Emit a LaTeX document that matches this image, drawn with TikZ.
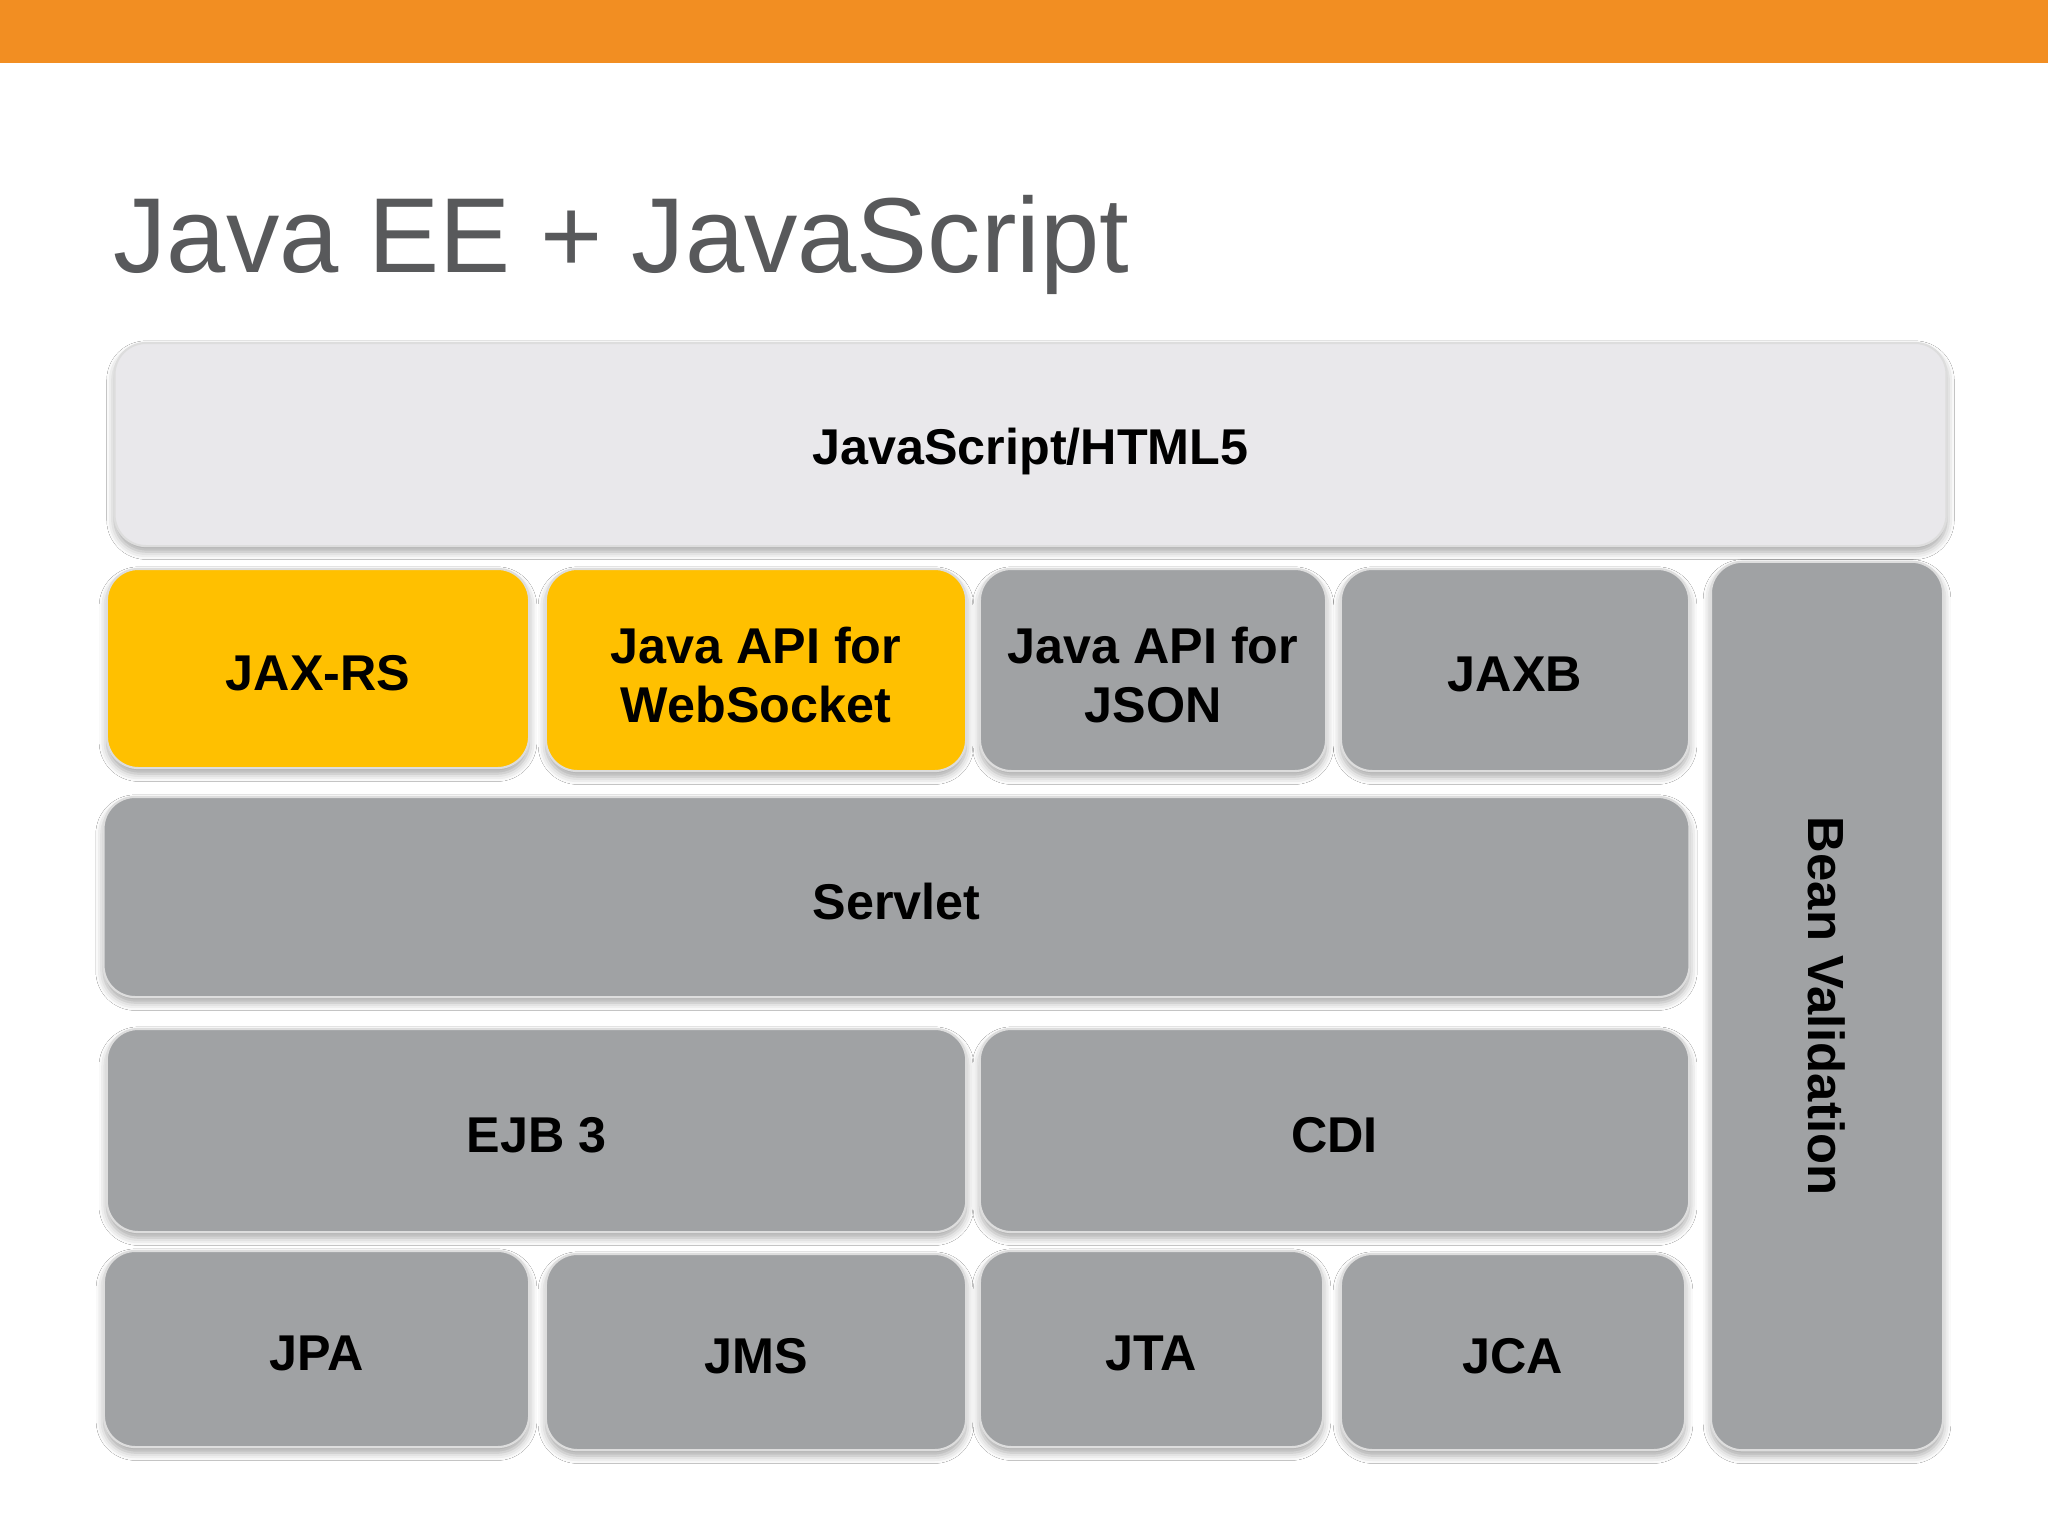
\documentclass[tikz,border=0pt]{standalone}
\usepackage{fontspec}
\setmainfont{Liberation Sans}
\usetikzlibrary{shadows.blur}
\definecolor{orangebar}{HTML}{F28E22}
\definecolor{titlegray}{HTML}{58595B}
\definecolor{boxgray}{HTML}{A0A2A4}
\definecolor{boxyellow}{HTML}{FFC000}
\definecolor{boxlight}{HTML}{E9E8EB}
\definecolor{edgegray}{HTML}{DDDDDD}
\tikzset{
  blk/.style={rectangle, rounded corners=9pt, draw=edgegray, line width=0.6pt,
    fill=boxgray, inner sep=0pt,
    blur shadow={shadow xshift=0pt, shadow yshift=-1.6pt, shadow blur radius=2.2pt, shadow opacity=35}},
  yel/.style={blk, fill=boxyellow},
  lgt/.style={blk, fill=boxlight},
  lbl/.style={font=\fontsize{14.3}{16.8}\selectfont\bfseries, text=black, inner sep=0pt, align=center, yshift=-1.3pt}
}
\begin{document}
\begin{tikzpicture}[x=0.01cm, y=-0.01cm]
\useasboundingbox (0,0) rectangle (2048,1536);
\fill[white] (0,0) rectangle (2048,1536);
\fill[orangebar] (0,0) rectangle (2048,63);
\node[anchor=base west, inner sep=0pt, text=titlegray, font=\fontsize{30.3}{36}\selectfont] (title) at (113,272) {Java EE + JavaScript};

\node[lgt, minimum width=18.31cm, minimum height=2.03cm, label={[lbl, yshift=-0.6pt]center:JavaScript/HTML5}] (js) at (1030.5,444.5) {};

\node[yel, minimum width=4.22cm, minimum height=1.99cm, label={[lbl]center:JAX-RS}] (jaxrs) at (318,668.5) {};
\node[yel, minimum width=4.20cm, minimum height=2.02cm, label={[lbl]center:Java API for\\WebSocket}] (ws) at (756,670) {};
\node[blk, minimum width=3.46cm, minimum height=2.02cm, label={[lbl]center:Java API for\\JSON}] (json) at (1153,670) {};
\node[blk, minimum width=3.48cm, minimum height=2.02cm, label={[lbl]center:JAXB}] (jaxb) at (1515,670) {};

\node[blk, minimum width=2.32cm, minimum height=8.88cm] (bean) at (1827,1006) {};
\node[font=\fontsize{14.45}{17}\selectfont\bfseries, text=black, inner sep=0pt, rotate=-90] (beantext) at (1827,1006) {Bean Validation};

\node[blk, minimum width=15.85cm, minimum height=2.00cm, label={[lbl]center:Servlet}] (servlet) at (896.5,897) {};

\node[blk, minimum width=8.59cm, minimum height=2.03cm, label={[lbl]center:EJB 3}] (ejb) at (536.5,1130.5) {};
\node[blk, minimum width=7.09cm, minimum height=2.03cm, label={[lbl]center:CDI}] (cdi) at (1334.5,1130.5) {};

\node[blk, minimum width=4.25cm, minimum height=1.96cm, label={[lbl]center:JPA}] (jpa) at (316.5,1349) {};
\node[blk, minimum width=4.20cm, minimum height=1.96cm, label={[lbl]center:JMS}] (jms) at (756,1352) {};
\node[blk, minimum width=3.43cm, minimum height=1.96cm, label={[lbl]center:JTA}] (jta) at (1151.5,1349) {};
\node[blk, minimum width=3.44cm, minimum height=1.96cm, label={[lbl]center:JCA}] (jca) at (1513,1352) {};
\end{tikzpicture}
\end{document}
